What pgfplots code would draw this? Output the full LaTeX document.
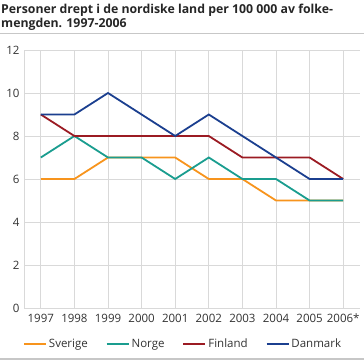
\documentclass[border=0pt]{standalone}
\usepackage{pgfplots}
\pgfplotsset{compat=1.18}
\usepackage{fontspec}
\setmainfont{Open Sans}
\definecolor{sverige}{HTML}{F7941D}
\definecolor{norge}{HTML}{1A9D8F}
\definecolor{finland}{HTML}{9B1B23}
\definecolor{danmark}{HTML}{1B3F8F}
\definecolor{gridc}{HTML}{D9D9D9}
\begin{document}
\begin{tikzpicture}
\path[use as bounding box] (0bp,0bp) rectangle (364bp,-360bp);
\node[anchor=base west, inner sep=0pt, font=\fontsize{12.3bp}{14bp}\selectfont\bfseries, text=black!85] at (1bp,-13bp) {Personer drept i de nordiske land per 100 000 av folke-};
\node[anchor=base west, inner sep=0pt, font=\fontsize{12.3bp}{14bp}\selectfont\bfseries, text=black!85] at (1bp,-27bp) {mengden. 1997-2006};
\draw[gridc!80!gray, line width=1.2bp] (0bp,-33.5bp) -- (364bp,-33.5bp);
\draw[gridc!80!gray, line width=1.2bp] (0bp,-359bp) -- (364bp,-359bp);
\begin{axis}[
  at={(24bp,-308bp)}, anchor=south west,
  scale only axis, width=336bp, height=258bp,
  xmin=-0.5, xmax=9.5, ymin=0, ymax=12,
  xtick={0,...,9},
  xticklabels={1997,1998,1999,2000,2001,2002,2003,2004,2005,2006*},
  ytick={0,2,4,6,8,10,12},
  axis x line*=bottom, axis y line*=left,
  axis line style={gridc, line width=1bp, -},
  grid=major,
  major grid style={gridc, line width=1bp},
  major tick length=0pt,
  tick style={draw=none},
  tick label style={font=\fontsize{11.5bp}{13bp}\selectfont, text=black!80},
  /pgf/number format/assume math mode=true,
  xticklabel style={yshift=-2bp, text height=9bp, text depth=0pt},
  yticklabel style={xshift=-1bp},
  legend columns=4,
  legend style={draw=none, fill=none, at={(-0.012,-0.14)}, anchor=west,
    font=\fontsize{11.5bp}{13bp}\selectfont, text=black!80,
    /tikz/every even column/.append style={column sep=16bp}},
  legend image code/.code={\draw[#1, line width=1.8bp] (0,0) -- (22bp,0);},
  every axis plot/.append style={line width=1.8bp, mark=none},
  clip=false,
]
\addplot[sverige] coordinates {(0,6)(1,6)(2,7)(3,7)(4,7)(5,6)(6,6)(7,5)(8,5)(9,5)};
\addlegendentry{Sverige}
\addplot[norge] coordinates {(0,7)(1,8)(2,7)(3,7)(4,6)(5,7)(6,6)(7,6)(8,5)(9,5)};
\addlegendentry{Norge}
\addplot[finland] coordinates {(0,9)(1,8)(2,8)(3,8)(4,8)(5,8)(6,7)(7,7)(8,7)(9,6)};
\addlegendentry{Finland}
\addplot[danmark] coordinates {(0,9)(1,9)(2,10)(3,9)(4,8)(5,9)(6,8)(7,7)(8,6)(9,6)};
\addlegendentry{Danmark}
\end{axis}
\end{tikzpicture}
\end{document}
